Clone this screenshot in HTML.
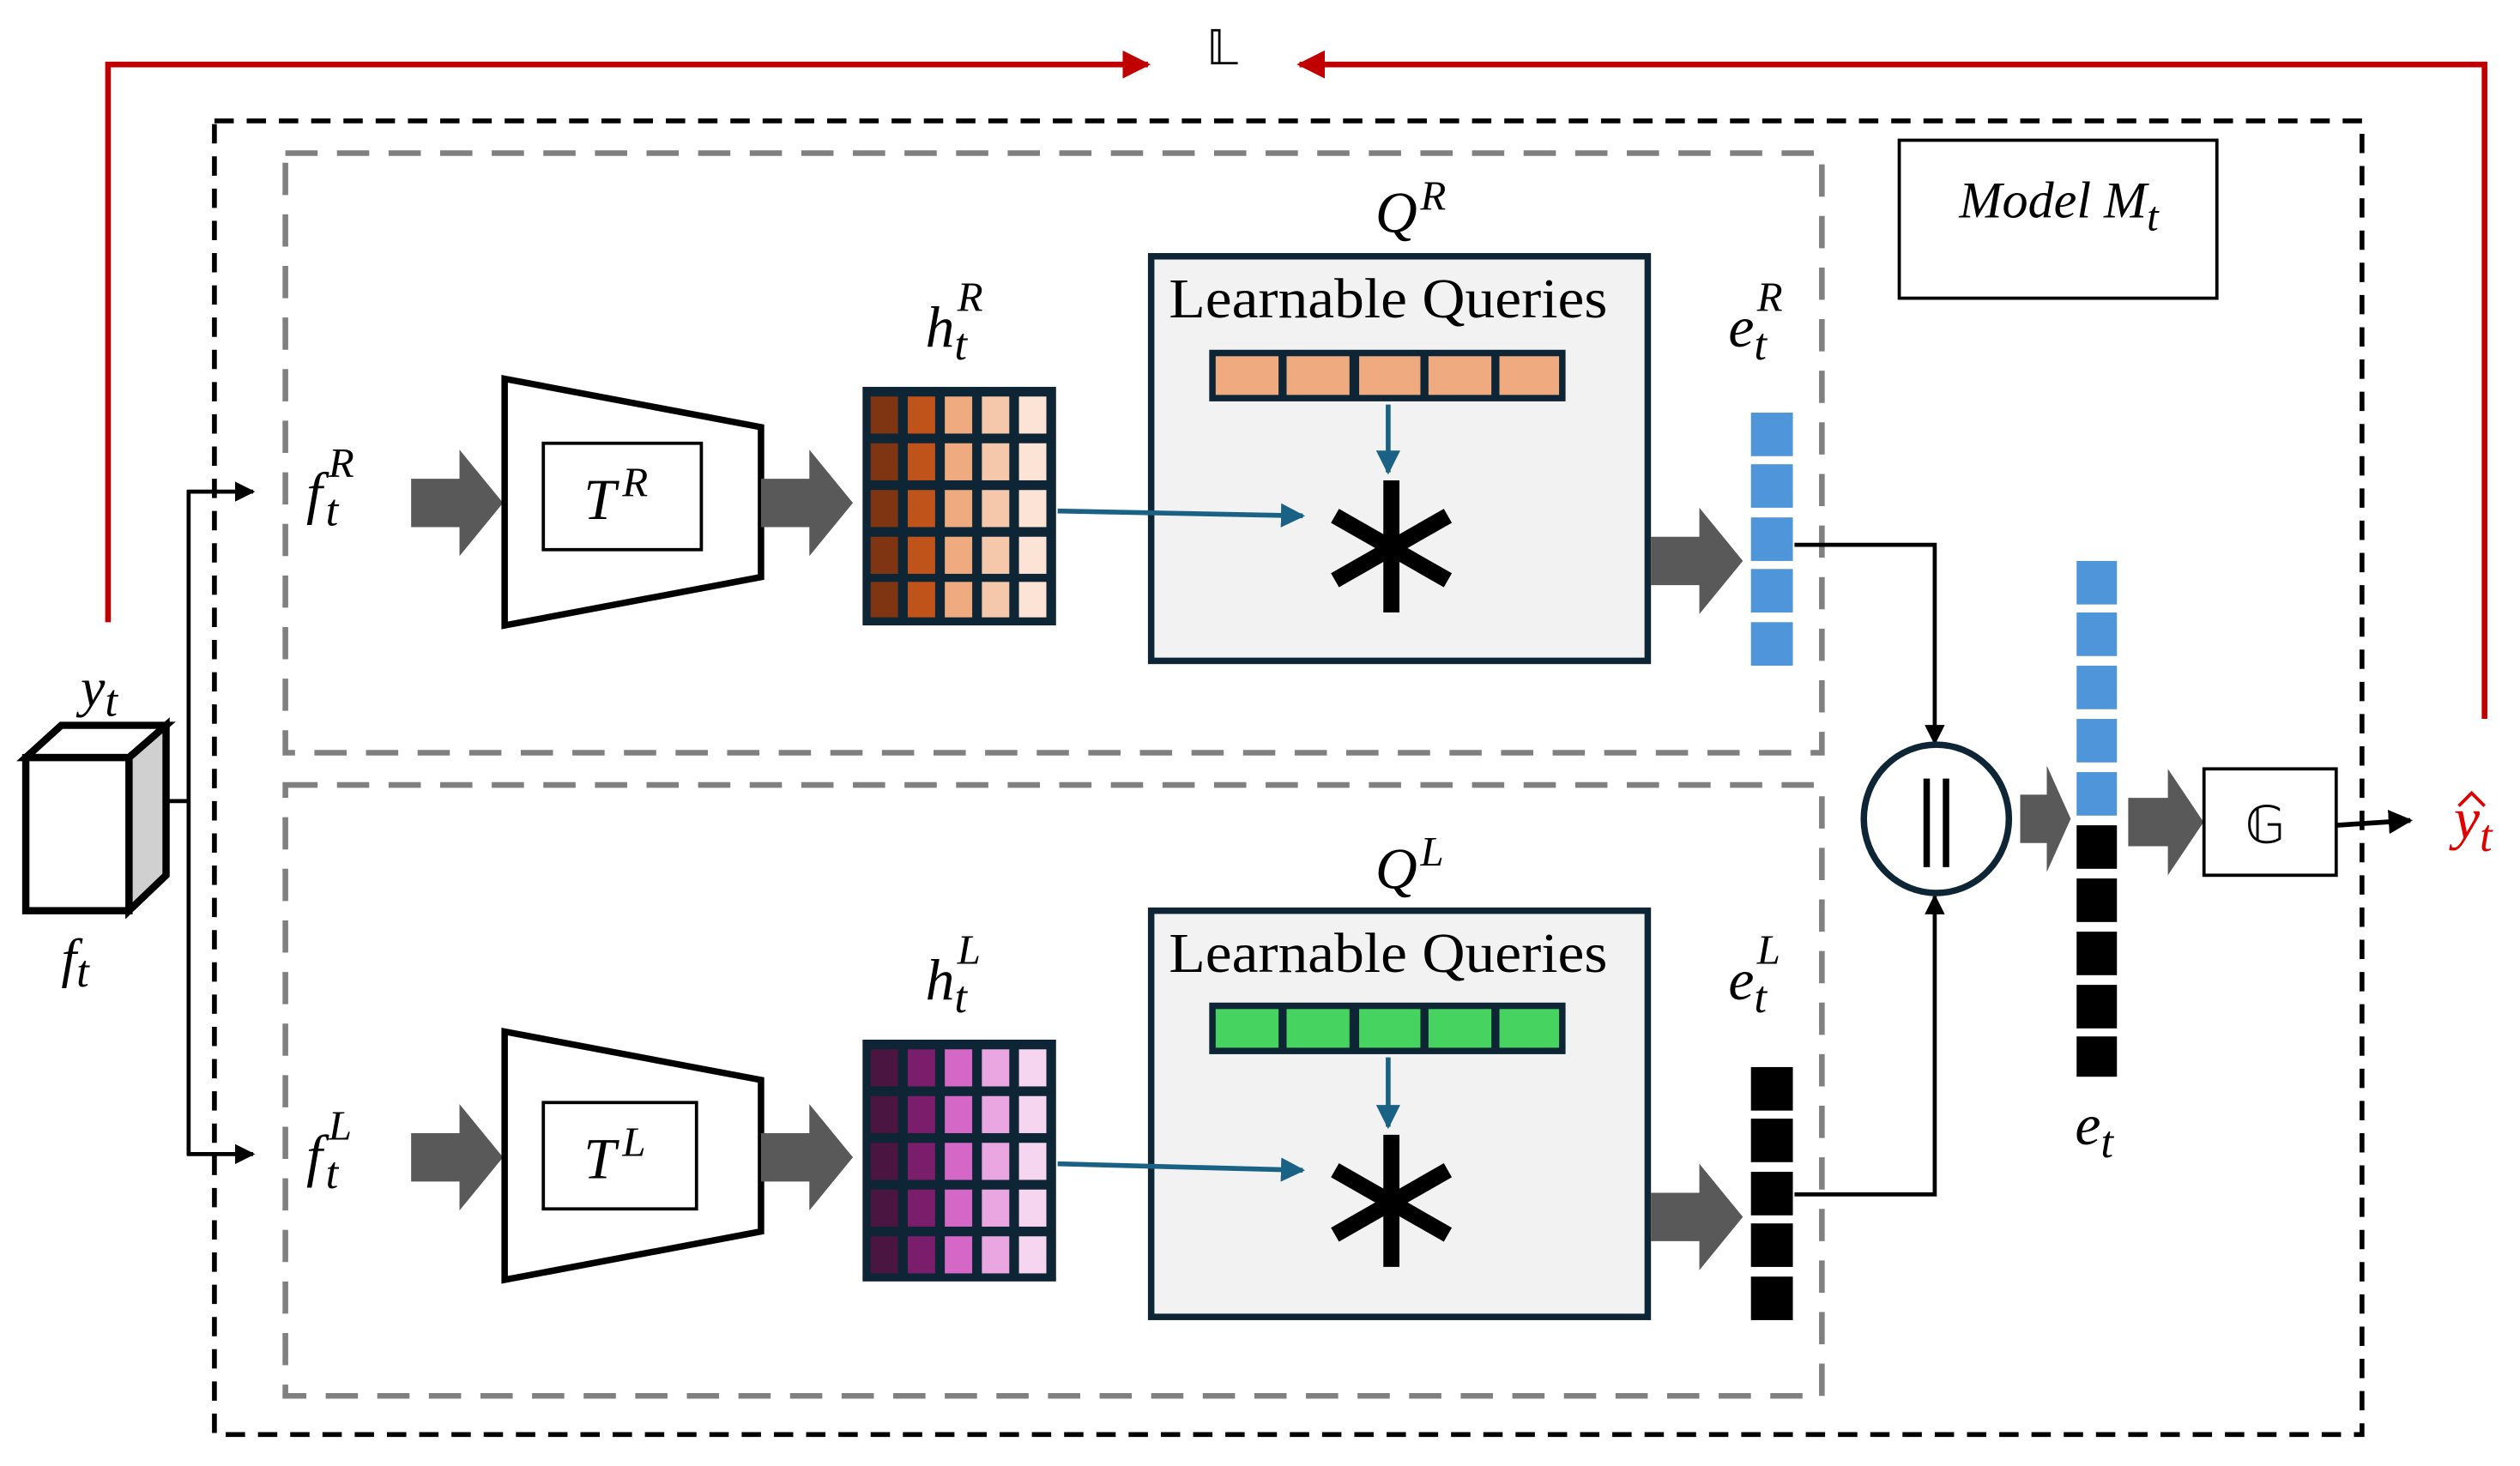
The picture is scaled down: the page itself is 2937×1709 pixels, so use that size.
<!DOCTYPE html>
<html><head><meta charset="utf-8"><style>html,body{margin:0;padding:0;background:#fff}svg{display:block}
text{font-family:"Liberation Serif",serif;font-style:italic;fill:#000}</style></head><body>
<svg width="2937" height="1709" viewBox="0 0 1563 909.5" preserveAspectRatio="none" xmlns="http://www.w3.org/2000/svg">
<defs>
<marker id="ab" viewBox="0 0 10 10" refX="9" refY="5" markerWidth="5" markerHeight="5" orient="auto"><path d="M0,0L10,5L0,10z" fill="#000"/></marker>
<marker id="ar" viewBox="0 0 10 10" refX="9" refY="5" markerWidth="5" markerHeight="5" orient="auto"><path d="M0,0L10,5L0,10z" fill="#c00000"/></marker>
<marker id="au" viewBox="0 0 10 10" refX="9" refY="5" markerWidth="5" markerHeight="5" orient="auto"><path d="M0,0L10,5L0,10z" fill="#1a6285"/></marker>
<g id="blk"><path d="M0,-15h30v-18l27,33l-27,33v-18h-30z" fill="#595959"/></g>
</defs>
<polyline points="67,386 67,40 712,40" fill="none" stroke="#c00000" stroke-width="3.5" marker-end="url(#ar)"/>
<polyline points="1541,446 1541,40 806,40" fill="none" stroke="#c00000" stroke-width="3.5" marker-end="url(#ar)"/>
<text x="758" y="40" font-size="30" style="font-style:normal" text-anchor="middle">𝕃</text>
<rect x="133" y="75" width="1332" height="815" fill="none" stroke="#000" stroke-width="3" stroke-dasharray="12,8"/>
<rect x="177" y="95" width="953" height="372" fill="none" stroke="#808080" stroke-width="3.5" stroke-dasharray="20,12"/>
<rect x="177" y="487" width="953" height="379" fill="none" stroke="#808080" stroke-width="3.5" stroke-dasharray="20,12"/>
<rect x="1178" y="87" width="197" height="98" fill="#fff" stroke="#000" stroke-width="2"/>
<text x="1277" y="135" font-size="32" text-anchor="middle">Model M<tspan font-size="26" dy="8">t</tspan></text>
<polygon points="16,470 38,450 103,450 80,470" fill="#fff" stroke="#000" stroke-width="4.5"/>
<polygon points="80,470 103,450 103,543 80,565" fill="#d0d0d0" stroke="#000" stroke-width="4.5"/>
<rect x="16" y="470" width="64" height="95" fill="#fff" stroke="#000" stroke-width="4.5"/>
<text x="50" y="438" font-size="34">y<tspan font-size="28" dy="6">t</tspan></text>
<text x="38" y="606" font-size="34">f<tspan font-size="28" dy="6">t</tspan></text>
<line x1="103" y1="497" x2="117" y2="497" stroke="#000" stroke-width="2.5"/>
<line x1="117" y1="304" x2="117" y2="717" stroke="#000" stroke-width="2.5"/>
<line x1="116" y1="305" x2="157" y2="305" stroke="#000" stroke-width="2.5" marker-end="url(#ab)"/>
<line x1="116" y1="716" x2="157" y2="716" stroke="#000" stroke-width="2.5" marker-end="url(#ab)"/>

<g>
<text x="190" y="318" font-size="36">f<tspan font-size="28" dx="2" dy="8">t</tspan><tspan font-size="26" dx="-6" dy="-30">R</tspan></text>
<use href="#blk" x="255" y="312"/>
<polygon points="313,235 472,265 472,358 313,388" fill="#fff" stroke="#000" stroke-width="4"/>
<rect x="337" y="275" width="98" height="66" fill="#fff" stroke="#000" stroke-width="2"/>
<text x="362" y="322" font-size="36">T<tspan font-size="26" dx="4" dy="-14">R</tspan></text>
<use href="#blk" x="472" y="312"/>
<rect x="535" y="240" width="120" height="148" fill="#0d2535"/>
<g>
<rect x="540" y="246" width="17" height="23" fill="#7f3511"/><rect x="563" y="246" width="17" height="23" fill="#c0531a"/><rect x="586" y="246" width="17" height="23" fill="#f0aa80"/><rect x="609" y="246" width="17" height="23" fill="#f5c8ab"/><rect x="632" y="246" width="17" height="23" fill="#fbe3d5"/>
<rect x="540" y="275" width="17" height="23" fill="#7f3511"/><rect x="563" y="275" width="17" height="23" fill="#c0531a"/><rect x="586" y="275" width="17" height="23" fill="#f0aa80"/><rect x="609" y="275" width="17" height="23" fill="#f5c8ab"/><rect x="632" y="275" width="17" height="23" fill="#fbe3d5"/>
<rect x="540" y="304" width="17" height="23" fill="#7f3511"/><rect x="563" y="304" width="17" height="23" fill="#c0531a"/><rect x="586" y="304" width="17" height="23" fill="#f0aa80"/><rect x="609" y="304" width="17" height="23" fill="#f5c8ab"/><rect x="632" y="304" width="17" height="23" fill="#fbe3d5"/>
<rect x="540" y="333" width="17" height="23" fill="#7f3511"/><rect x="563" y="333" width="17" height="23" fill="#c0531a"/><rect x="586" y="333" width="17" height="23" fill="#f0aa80"/><rect x="609" y="333" width="17" height="23" fill="#f5c8ab"/><rect x="632" y="333" width="17" height="23" fill="#fbe3d5"/>
<rect x="540" y="361" width="17" height="22" fill="#7f3511"/><rect x="563" y="361" width="17" height="22" fill="#c0531a"/><rect x="586" y="361" width="17" height="22" fill="#f0aa80"/><rect x="609" y="361" width="17" height="22" fill="#f5c8ab"/><rect x="632" y="361" width="17" height="22" fill="#fbe3d5"/>
</g>
<text x="574" y="215" font-size="36">h<tspan font-size="28" dy="8">t</tspan><tspan font-size="26" dx="-6" dy="-30">R</tspan></text>
<text x="853" y="144" font-size="36">Q<tspan font-size="26" dx="2" dy="-14">R</tspan></text>
<rect x="714" y="159" width="308" height="251" fill="#f2f2f2" stroke="#0d2535" stroke-width="4"/>
<text x="725" y="197" font-size="35" textLength="272" lengthAdjust="spacingAndGlyphs" style="font-style:normal">Learnable Queries</text>
<rect x="750" y="217" width="221" height="32" fill="#0d2535"/>
<rect x="754" y="221" width="39" height="24" fill="#f0aa80"/><rect x="798" y="221" width="39" height="24" fill="#f0aa80"/><rect x="843" y="221" width="38" height="24" fill="#f0aa80"/><rect x="886" y="221" width="39" height="24" fill="#f0aa80"/><rect x="930" y="221" width="37" height="24" fill="#f0aa80"/>
<line x1="861" y1="251" x2="861" y2="293" stroke="#1a6285" stroke-width="3" marker-end="url(#au)"/>
<line x1="656" y1="317" x2="808" y2="320" stroke="#1a6285" stroke-width="3" marker-end="url(#au)"/>
<g stroke="#000" stroke-width="10"><line x1="863" y1="298" x2="863" y2="380"/><line x1="828" y1="320" x2="898" y2="360"/><line x1="828" y1="360" x2="898" y2="320"/></g>
<use href="#blk" x="1024" y="348"/>
<text x="1072" y="215" font-size="36">e<tspan font-size="28" dy="8">t</tspan><tspan font-size="26" dx="-6" dy="-30">R</tspan></text>
<rect x="1086" y="256" width="26" height="27" fill="#4f95d9"/><rect x="1086" y="288" width="26" height="27" fill="#4f95d9"/><rect x="1086" y="321" width="26" height="27" fill="#4f95d9"/><rect x="1086" y="353" width="26" height="27" fill="#4f95d9"/><rect x="1086" y="386" width="26" height="27" fill="#4f95d9"/>
</g>

<g>
<text x="190" y="729" font-size="36">f<tspan font-size="28" dx="2" dy="8">t</tspan><tspan font-size="26" dx="-6" dy="-30">L</tspan></text>
<use href="#blk" x="255" y="718"/>
<polygon points="313,640 472,670 472,764 313,794" fill="#fff" stroke="#000" stroke-width="4"/>
<rect x="337" y="684" width="95" height="66" fill="#fff" stroke="#000" stroke-width="2"/>
<text x="362" y="731" font-size="36">T<tspan font-size="26" dx="4" dy="-14">L</tspan></text>
<use href="#blk" x="472" y="718"/>
<rect x="535" y="645" width="120" height="150" fill="#0d2535"/>
<g>
<rect x="540" y="651" width="17" height="23" fill="#4a1540"/><rect x="563" y="651" width="17" height="23" fill="#7a1d6a"/><rect x="586" y="651" width="17" height="23" fill="#d567c7"/><rect x="609" y="651" width="17" height="23" fill="#e9a6e0"/><rect x="632" y="651" width="17" height="23" fill="#f5d5f0"/>
<rect x="540" y="680" width="17" height="23" fill="#4a1540"/><rect x="563" y="680" width="17" height="23" fill="#7a1d6a"/><rect x="586" y="680" width="17" height="23" fill="#d567c7"/><rect x="609" y="680" width="17" height="23" fill="#e9a6e0"/><rect x="632" y="680" width="17" height="23" fill="#f5d5f0"/>
<rect x="540" y="709" width="17" height="23" fill="#4a1540"/><rect x="563" y="709" width="17" height="23" fill="#7a1d6a"/><rect x="586" y="709" width="17" height="23" fill="#d567c7"/><rect x="609" y="709" width="17" height="23" fill="#e9a6e0"/><rect x="632" y="709" width="17" height="23" fill="#f5d5f0"/>
<rect x="540" y="738" width="17" height="23" fill="#4a1540"/><rect x="563" y="738" width="17" height="23" fill="#7a1d6a"/><rect x="586" y="738" width="17" height="23" fill="#d567c7"/><rect x="609" y="738" width="17" height="23" fill="#e9a6e0"/><rect x="632" y="738" width="17" height="23" fill="#f5d5f0"/>
<rect x="540" y="767" width="17" height="23" fill="#4a1540"/><rect x="563" y="767" width="17" height="23" fill="#7a1d6a"/><rect x="586" y="767" width="17" height="23" fill="#d567c7"/><rect x="609" y="767" width="17" height="23" fill="#e9a6e0"/><rect x="632" y="767" width="17" height="23" fill="#f5d5f0"/>
</g>
<text x="574" y="620" font-size="36">h<tspan font-size="28" dy="8">t</tspan><tspan font-size="26" dx="-6" dy="-30">L</tspan></text>
<text x="853" y="551" font-size="36">Q<tspan font-size="26" dx="2" dy="-14">L</tspan></text>
<rect x="714" y="565" width="308" height="252" fill="#f2f2f2" stroke="#0d2535" stroke-width="4"/>
<text x="725" y="603" font-size="35" textLength="272" lengthAdjust="spacingAndGlyphs" style="font-style:normal">Learnable Queries</text>
<rect x="750" y="622" width="221" height="32" fill="#0d2535"/>
<rect x="754" y="626" width="39" height="24" fill="#46d35f"/><rect x="798" y="626" width="39" height="24" fill="#46d35f"/><rect x="843" y="626" width="38" height="24" fill="#46d35f"/><rect x="886" y="626" width="39" height="24" fill="#46d35f"/><rect x="930" y="626" width="37" height="24" fill="#46d35f"/>
<line x1="861" y1="656" x2="861" y2="699" stroke="#1a6285" stroke-width="3" marker-end="url(#au)"/>
<line x1="656" y1="722" x2="808" y2="726" stroke="#1a6285" stroke-width="3" marker-end="url(#au)"/>
<g stroke="#000" stroke-width="10"><line x1="863" y1="704" x2="863" y2="786"/><line x1="828" y1="726" x2="898" y2="766"/><line x1="828" y1="766" x2="898" y2="726"/></g>
<use href="#blk" x="1024" y="755"/>
<text x="1072" y="620" font-size="36">e<tspan font-size="28" dy="8">t</tspan><tspan font-size="26" dx="-6" dy="-30">L</tspan></text>
<rect x="1086" y="662" width="26" height="27" fill="#000"/><rect x="1086" y="694" width="26" height="27" fill="#000"/><rect x="1086" y="727" width="26" height="27" fill="#000"/><rect x="1086" y="759" width="26" height="27" fill="#000"/><rect x="1086" y="792" width="26" height="27" fill="#000"/>
</g>

<polyline points="1113,338 1200,338 1200,461" fill="none" stroke="#000" stroke-width="2.5" marker-end="url(#ab)"/>
<polyline points="1113,741 1200,741 1200,556" fill="none" stroke="#000" stroke-width="2.5" marker-end="url(#ab)"/>
<ellipse cx="1201" cy="508" rx="45" ry="46" fill="#fff" stroke="#0d2535" stroke-width="4"/>
<line x1="1195" y1="483" x2="1195" y2="538" stroke="#000" stroke-width="4"/>
<line x1="1207" y1="483" x2="1207" y2="538" stroke="#000" stroke-width="4"/>
<g transform="translate(1253,508) scale(0.55,1)"><use href="#blk"/></g>
<rect x="1288" y="348" width="25" height="27" fill="#4f95d9"/><rect x="1288" y="380" width="25" height="27" fill="#4f95d9"/><rect x="1288" y="413" width="25" height="27" fill="#4f95d9"/><rect x="1288" y="446" width="25" height="27" fill="#4f95d9"/><rect x="1288" y="479" width="25" height="27" fill="#4f95d9"/>
<rect x="1288" y="512" width="25" height="27" fill="#000"/><rect x="1288" y="545" width="25" height="27" fill="#000"/><rect x="1288" y="578" width="25" height="27" fill="#000"/><rect x="1288" y="611" width="25" height="27" fill="#000"/><rect x="1288" y="643" width="25" height="25" fill="#000"/>
<text x="1287" y="710" font-size="36">e<tspan font-size="28" dy="8">t</tspan></text>
<g transform="translate(1320,510) scale(0.82,1)"><use href="#blk"/></g>
<rect x="1367" y="477" width="82" height="66" fill="#fff" stroke="#000" stroke-width="2"/>
<text x="1405" y="523" font-size="32" text-anchor="middle" style="font-style:normal">𝔾</text>
<line x1="1449" y1="512" x2="1495" y2="509" stroke="#000" stroke-width="3" marker-end="url(#ab)"/>
<text x="1522" y="520" font-size="36" style="fill:#e00000">y<tspan font-size="28" dy="8" style="fill:#e00000">t</tspan></text>
<path d="M1525,500 L1533,492 L1541,500" fill="none" stroke="#e00000" stroke-width="2"/>
</svg>
</body></html>
